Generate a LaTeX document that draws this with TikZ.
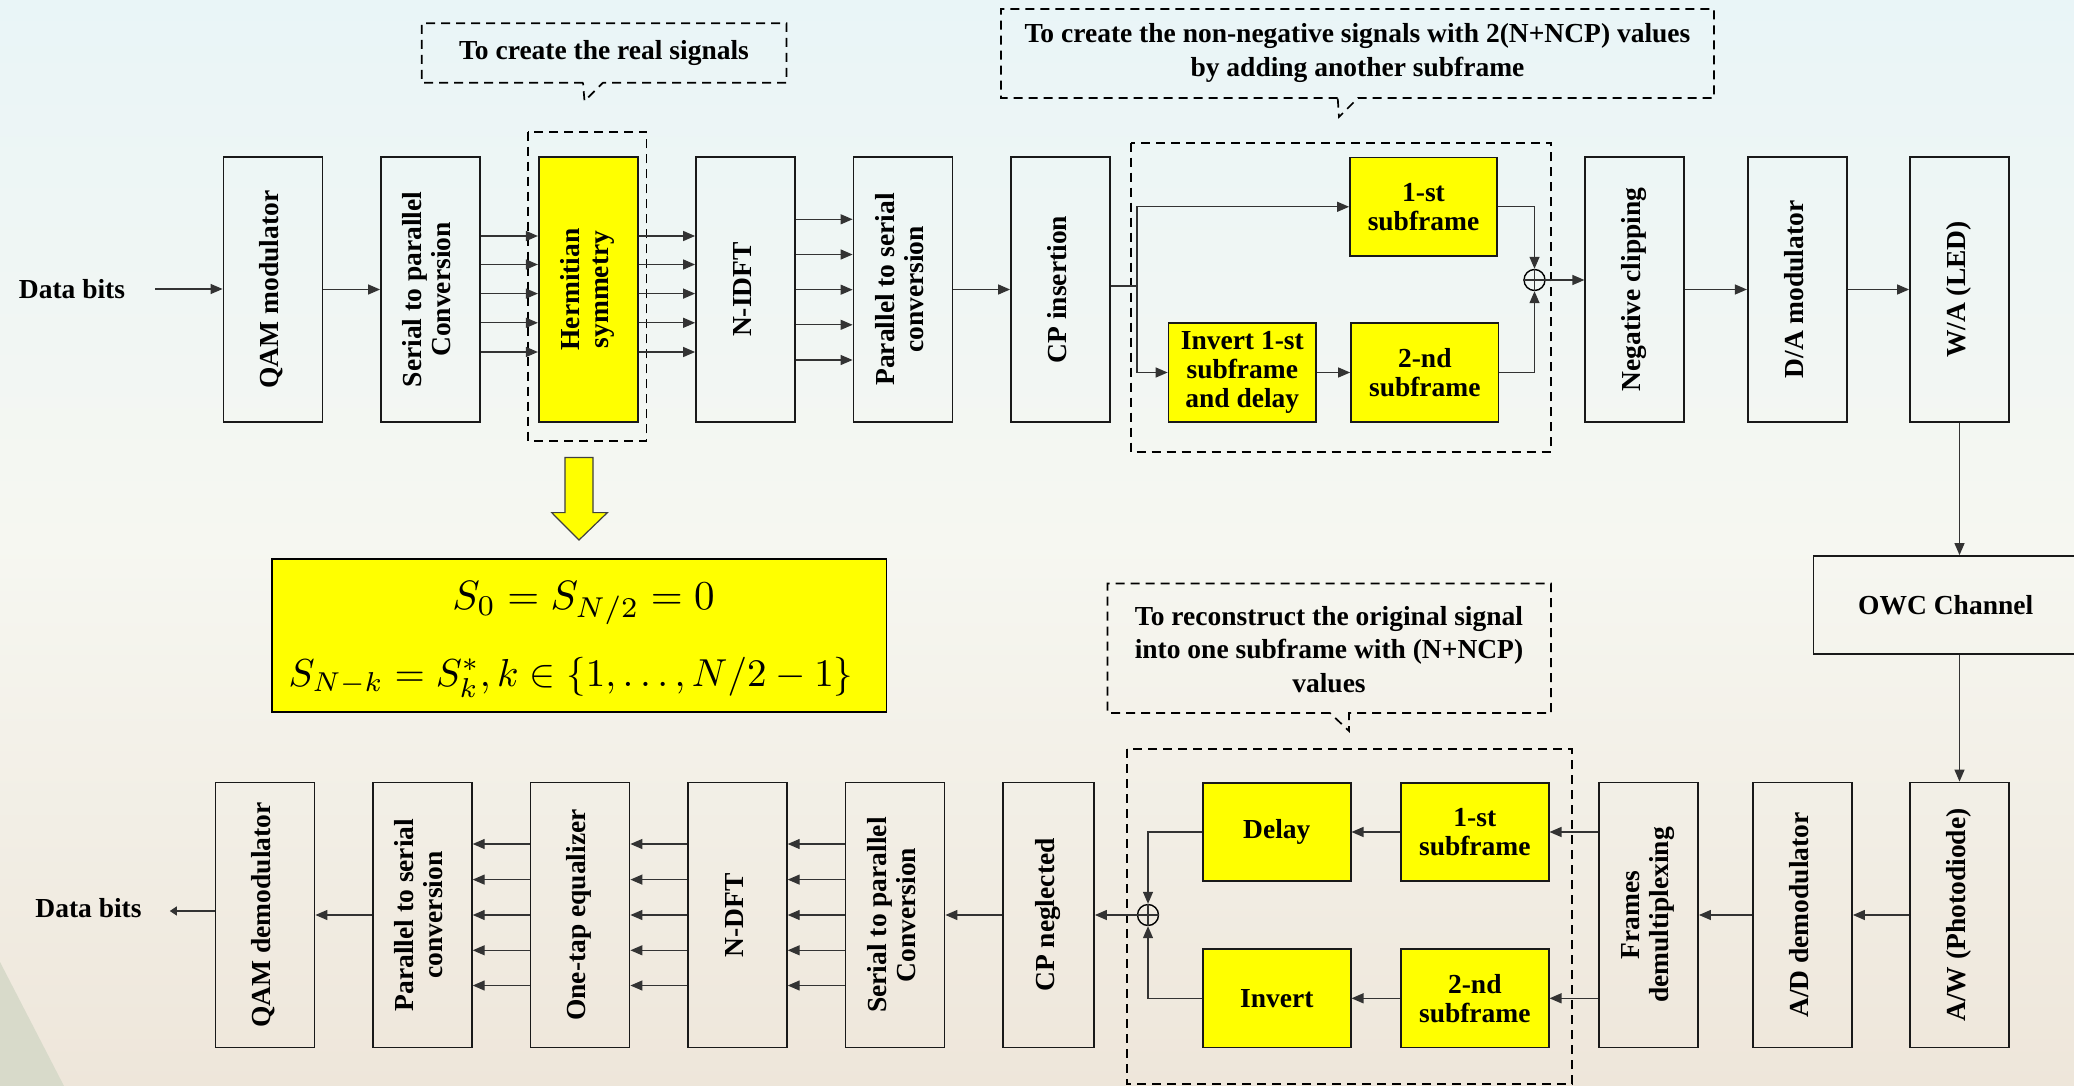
\documentclass[tikz,border=0pt]{standalone}
\usepackage{fontspec}
\setmainfont{Liberation Serif}
\usepackage{graphicx}
\usetikzlibrary{arrows.meta}

\definecolor{bgtop}{RGB}{233,245,247}
\definecolor{bgmid}{RGB}{246,247,241}
\definecolor{bgbot}{RGB}{238,230,218}
\definecolor{wedge}{RGB}{216,218,202}
\definecolor{blockyellow}{RGB}{255,255,0}

\newcommand\blkfont{\fontsize{27.5}{29}\selectfont\bfseries}
\newcommand\notefont{\fontsize{27.5}{33.5}\selectfont\bfseries}
\newcommand\vlab[1]{\rotatebox{90}{\begin{tabular}{@{}c@{}}#1\end{tabular}}}
\newcommand\bigmath[2][4.1]{\scalebox{#1}{$#2$}}

\tikzset{
  blk/.style={draw=black!90, line width=1.8pt, minimum width=99pt,
    minimum height=265pt, inner sep=0pt, font=\blkfont},
  ybox/.style={draw=black!90, line width=1.8pt, fill=blockyellow,
    inner sep=0pt, align=center, font=\blkfont},
  txt/.style={inner sep=0pt, align=center, font=\blkfont},
  note/.style={inner sep=0pt, align=center, font=\notefont},
  con/.style={line width=1.3pt, draw=black!80},
  arr/.style={con, -{Triangle[length=12pt,width=10pt]}},
  dashbox/.style={draw=black, line width=1.7pt, dash pattern=on 9pt off 6pt},
  sumnode/.style={circle, draw=black, line width=1.4pt, minimum size=21pt,
    inner sep=0pt},
}

\begin{document}
\begin{tikzpicture}[x=1pt,y=-1pt]
\useasboundingbox (0,0) rectangle (2074,1086);
\clip (0,0) rectangle (2074,1086);

% background
\shade[top color=bgtop, bottom color=bgbot, middle color=bgmid]
  (0,0) rectangle (2074,1086);
\fill[wedge] (0,962) -- (64,1086) -- (0,1086) -- cycle;

% ---------------- transmitter ----------------
\node[txt] (din) at (72,289) {Data bits};
\node[blk] (qam) at (273,289.5) {\vlab{QAM modulator}};
\node[blk] (sp) at (430.5,289.5) {\vlab{Serial to parallel\\Conversion}};
\node[blk, fill=blockyellow] (herm) at (588.3,289.5) {\vlab{Hermitian\\symmetry}};
\node[blk] (idft) at (745.5,289.5) {\vlab{N-IDFT}};
\node[blk] (ps) at (903,289.5) {\vlab{Parallel to serial\\conversion}};
\node[blk] (cpi) at (1060.5,289.5) {\vlab{CP insertion}};
\node[blk] (neg) at (1634.8,289.5) {\vlab{Negative clipping}};
\node[blk] (da) at (1797.3,289.5) {\vlab{D/A modulator}};
\node[blk] (wa) at (1959.5,289.5) {\vlab{W/A (LED)}};

\node[ybox, minimum width=147pt, minimum height=98.5pt] (sub1) at (1423.5,206.8) {1-st\\subframe};
\node[ybox, minimum width=147.5pt, minimum height=99pt] (inv) at (1242.3,372.5) {Invert 1-st\\subframe\\and delay};
\node[ybox, minimum width=147.5pt, minimum height=99pt] (sub2) at (1424.8,372.5) {2-nd\\subframe};
\node[sumnode] (sum1) at (1534.5,280) {};
\draw[con] (sum1.north) -- (sum1.south) (sum1.west) -- (sum1.east);

% dashed groupings
\draw[dashbox] (528,131.7) rectangle (646.6,440.7);
\draw[dashbox] (1131,142.7) rectangle (1551,452);

% callouts
\draw[dashbox] (583,82.7) -- (421.8,82.7) -- (421.8,23.3) -- (786.5,23.3)
  -- (786.5,82.7) -- (603,82.7) -- (584.5,101) -- cycle;
\node[note] (n1) at (604,53) {To create the real signals};
\draw[dashbox] (1337.7,98) -- (1001,98) -- (1001,9) -- (1714,9)
  -- (1714,98) -- (1358,98) -- (1339,117) -- cycle;
\node[note] (n2) at (1357.5,53) {To create the non-negative signals with 2(N+NCP) values\\by adding another subframe};

% transmitter connectors
\draw[arr, shorten <=30pt] (din.east) -- (din.east -| qam.west);
\draw[arr] (qam.east) -- (sp.west);
\foreach \yy [count=\i] in {236,264.5,293.6,322.8,352} {
  \coordinate (ya\i) at (0,\yy);
  \draw[arr] (sp.east |- ya\i) -- (herm.west |- ya\i);
  \draw[arr] (herm.east |- ya\i) -- (idft.west |- ya\i);
}
\foreach \yy [count=\i] in {219.3,254.5,289.7,324.8,360} {
  \coordinate (yb\i) at (0,\yy);
  \draw[arr] (idft.east |- yb\i) -- (ps.west |- yb\i);
}
\draw[arr] (ps.east) -- (cpi.west);
\coordinate (ycp) at (0,286);
\coordinate (split) at (1137,286);
\draw[con] (cpi.east |- ycp) -- (split);
\draw[arr] (split) |- (sub1.west);
\draw[arr] (split) |- (inv.west);
\draw[arr] (inv.east) -- (sub2.west);
\draw[arr] (sub1.east) -| (sum1.north);
\draw[arr] (sub2.east) -| (sum1.south);
\draw[arr] (sum1.east) -- (sum1.east -| neg.west);
\draw[arr] (neg.east) -- (da.west);
\draw[arr] (da.east) -- (wa.west);

% Hermitian symmetry constraints
\fill[blockyellow, draw=black!75, line width=1.2pt]
  (565,457.4) -- (593,457.4) -- (593,512.6) -- (607.4,512.6) -- (579,540)
  -- (551.7,512.6) -- (565,512.6) -- cycle;
\node[draw=black, line width=1.5pt, fill=blockyellow, minimum width=614.6pt,
  minimum height=153pt, inner sep=0pt] (hsym) at (579.3,635.5) {};
\node[inner sep=0pt] (eq1) at (583.5,603) {\bigmath{S_0 = S_{N/2} = 0}};
\node[inner sep=0pt] (eq2) at (571,677)
  {\bigmath[3.9]{S_{N-k} = S_k^{*}, k \in \{1,\ldots,N/2-1\}}};

% channel
\node[draw=black!90, line width=1.8pt, minimum width=264.5pt, minimum height=97.6pt,
  inner sep=0pt, font=\blkfont] (owc) at (1945.7,604.8) {OWC Channel};

% ---------------- receiver ----------------
\node[blk] (aw) at (1959.5,915) {\vlab{A/W (Photodiode)}};
\node[blk] (ad) at (1802.5,915) {\vlab{A/D demodulator}};
\node[blk] (fdm) at (1648.5,915) {\vlab{Frames\\demultiplexing}};
\node[blk, minimum width=91pt] (cpn) at (1048.5,915) {\vlab{CP neglected}};
\node[blk] (bsp) at (895,915) {\vlab{Serial to parallel\\Conversion}};
\node[blk] (dft) at (737.3,915) {\vlab{N-DFT}};
\node[blk] (eqz) at (580,915) {\vlab{One-tap equalizer}};
\node[blk] (bps) at (422.3,915) {\vlab{Parallel to serial\\conversion}};
\node[blk] (qamd) at (265,915) {\vlab{QAM demodulator}};
\node[txt] (dout) at (88.5,908) {Data bits};

\node[ybox, minimum width=147.6pt, minimum height=98pt] (bs1) at (1474.8,832) {1-st\\subframe};
\node[ybox, minimum width=147.6pt, minimum height=98.5pt] (bs2) at (1474.8,998.3) {2-nd\\subframe};
\node[ybox, minimum width=147.6pt, minimum height=98pt] (dly) at (1276.8,832) {Delay};
\node[ybox, minimum width=147.6pt, minimum height=98.5pt] (binv) at (1276.8,998.3) {Invert};
\node[sumnode] (sum2) at (1148,915) {};
\draw[con] (sum2.north) -- (sum2.south) (sum2.west) -- (sum2.east);

\draw[dashbox] (1127,749) rectangle (1572,1084);
\draw[dashbox] (1330,713) -- (1107.5,713) -- (1107.5,583.5) -- (1551,583.5)
  -- (1551,713) -- (1349,713) -- (1349,731) -- cycle;
\node[note] (n3) at (1329,649.5) {To reconstruct the original signal\\into one subframe with (N+NCP)\\values};

% channel and receiver connectors
\draw[arr] (wa.south) -- (wa.south |- owc.north);
\draw[arr] (wa.south |- owc.south) -- (aw.north);
\draw[arr] (aw.west) -- (ad.east);
\draw[arr] (ad.west) -- (fdm.east);
\draw[arr] (fdm.west |- bs1.east) -- (bs1.east);
\draw[arr] (fdm.west |- bs2.east) -- (bs2.east);
\draw[arr] (bs1.west) -- (dly.east);
\draw[arr] (bs2.west) -- (binv.east);
\draw[arr] (dly.west) -| (sum2.north);
\draw[arr] (binv.west) -| (sum2.south);
\draw[arr] (sum2.west) -- (cpn.east);
\draw[arr] (cpn.west) -- (bsp.east);
\foreach \yy [count=\i] in {844,879.6,915,950.3,985.5} {
  \coordinate (yc\i) at (0,\yy);
  \draw[arr] (bsp.west |- yc\i) -- (dft.east |- yc\i);
  \draw[arr] (dft.west |- yc\i) -- (eqz.east |- yc\i);
  \draw[arr] (eqz.west |- yc\i) -- (bps.east |- yc\i);
}
\draw[arr] (bps.west) -- (qamd.east);
\coordinate (yout) at (0,911);
\draw[con, -{Triangle[length=7pt,width=9pt]}, shorten >=28pt]
  (qamd.west |- yout) -- (dout.east |- yout);
\end{tikzpicture}
\end{document}
